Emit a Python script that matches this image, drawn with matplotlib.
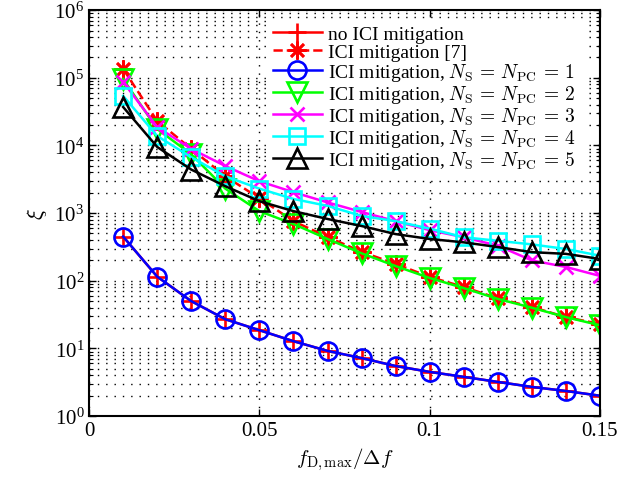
import numpy as np
import matplotlib
matplotlib.use('Agg')
import matplotlib.pyplot as plt

plt.rcParams['font.family'] = 'Liberation Serif'
plt.rcParams['mathtext.fontset'] = 'cm'

# normalised Doppler frequency
fd = [0.01, 0.02, 0.03, 0.04, 0.05, 0.06, 0.07, 0.08,
      0.09, 0.10, 0.11, 0.12, 0.13, 0.14, 0.15]

# xi values
no_ici = [450, 115, 50, 27, 18.6, 12.8, 9.2, 7.2, 5.5, 4.5, 3.8, 3.2, 2.7, 2.35, 2.0]
ici_ref7 = [135000, 23000, 8900, 3500, 1660, 760, 445, 268, 178, 114, 81, 55, 41, 29, 23]
ici_n1 = [450, 115, 50, 27, 18.6, 12.8, 9.2, 7.2, 5.5, 4.5, 3.8, 3.2, 2.7, 2.35, 2.0]
ici_n2 = [96000, 17500, 7400, 2300, 1070, 690, 415, 255, 165, 110, 78, 54, 40, 29, 22]
ici_n3 = [87000, 18700, 8900, 4970, 2960, 2040, 1440, 1040, 760, 560, 440, 330, 200, 160, 118]
ici_n4 = [54000, 13800, 6700, 3500, 2300, 1620, 1280, 910, 760, 590, 440, 390, 345, 295, 235]
ici_n5 = [37000, 9500, 4400, 2500, 1500, 1070, 820, 645, 490, 415, 370, 315, 265, 250, 210]

fig = plt.figure(figsize=(6.41, 4.85), dpi=100)
ax = fig.add_axes([0.139, 0.140, 0.797, 0.837])

lw = 1.8
ms = 13
mew = 1.9
ax.plot(fd, no_ici, '-', color='r', marker='+', ms=ms, mew=mew, lw=lw,
        label='no ICI mitigation')
ax.plot(fd, ici_ref7, '--', color='r', marker=(8, 2, 0), ms=ms, mew=mew, lw=lw,
        label='ICI mitigation [7]')
ax.plot(fd, ici_n1, '-', color='b', marker='o', ms=ms, mew=mew, lw=lw, mfc='none',
        label=r'ICI mitigation, $N_{\mathrm{S}}\,=\,N_{\mathrm{PC}}\,=\,1$')
ax.plot(fd, ici_n2, '-', color=(0, 1, 0), marker='v', ms=ms + 1, mew=mew, lw=lw, mfc='none',
        label=r'ICI mitigation, $N_{\mathrm{S}}\,=\,N_{\mathrm{PC}}\,=\,2$')
ax.plot(fd, ici_n3, '-', color=(1, 0, 1), marker='x', ms=ms - 3, mew=mew, lw=lw,
        label=r'ICI mitigation, $N_{\mathrm{S}}\,=\,N_{\mathrm{PC}}\,=\,3$')
ax.plot(fd, ici_n4, '-', color=(0, 1, 1), marker='s', ms=ms - 2, mew=mew, lw=lw, mfc='none',
        label=r'ICI mitigation, $N_{\mathrm{S}}\,=\,N_{\mathrm{PC}}\,=\,4$')
ax.plot(fd, ici_n5, '-', color='k', marker='^', ms=ms + 1, mew=mew, lw=lw, mfc='none',
        label=r'ICI mitigation, $N_{\mathrm{S}}\,=\,N_{\mathrm{PC}}\,=\,5$')

ax.set_yscale('log')
ax.set_xlim(0, 0.15)
ax.set_ylim(1, 1e6)
ax.set_xticks([0, 0.05, 0.1, 0.15])
ax.set_xticklabels(['0', '0.05', '0.1', '0.15'])

dots = (0, (1, 5))
ax.grid(True, which='major', axis='x', linestyle=dots, color='k', lw=1)
ax.grid(True, which='both', axis='y', linestyle=dots, color='k', lw=1)
ax.tick_params(which='both', direction='in', top=True, right=True, labelsize=15)
ax.tick_params(which='major', length=5, width=1)
ax.tick_params(which='minor', length=3, width=0.8)
for s in ax.spines.values():
    s.set_linewidth(1.5)

ax.set_xlabel(r'$f_{\mathrm{D,max}}/\Delta f$', fontsize=15)
ax.set_ylabel(r'$\xi$', fontsize=16)

leg = ax.legend(loc='upper right', bbox_to_anchor=(0.972, 0.986), fontsize=14,
                handlelength=2.5, labelspacing=0.0, borderpad=0.3, handletextpad=0.35,
                framealpha=1, edgecolor='white', fancybox=False, borderaxespad=0.2)

fig.savefig('out.png', dpi=100)
